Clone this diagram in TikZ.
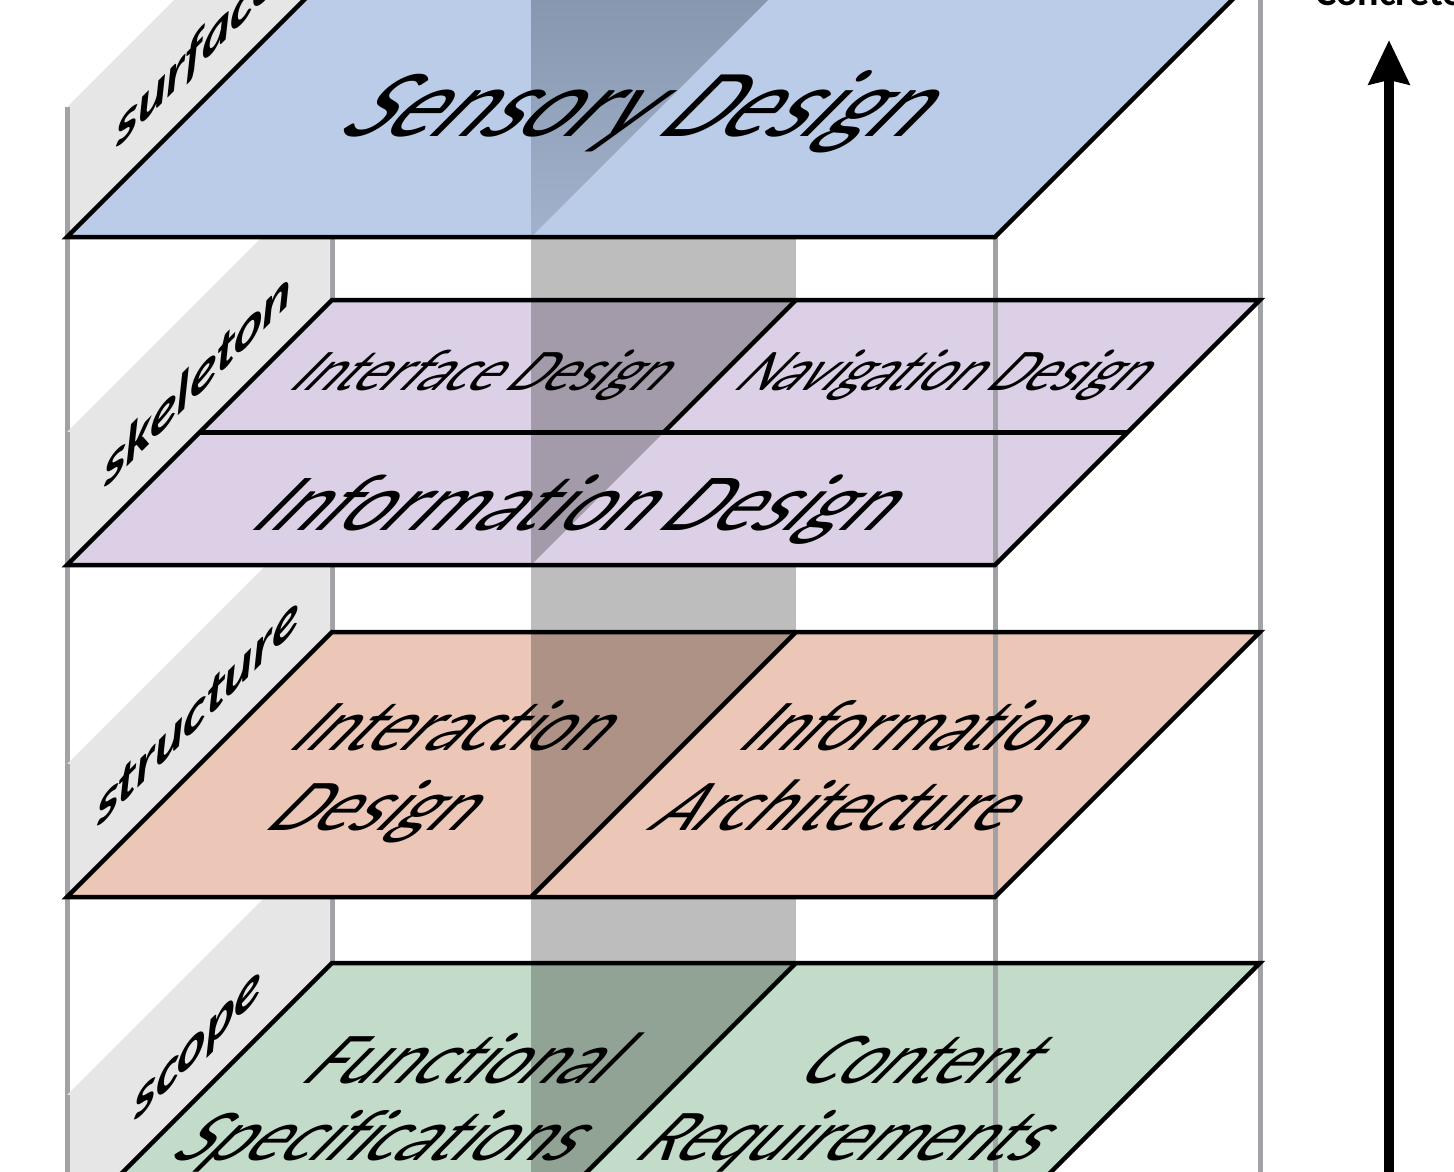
\documentclass[tikz,border=0pt]{standalone}
\usepackage{fontspec}
\setmainfont{Carlito}[Ligatures=CommonOff]
\usetikzlibrary{arrows.meta}
\definecolor{surfc}{RGB}{186,204,232}
\definecolor{skelc}{RGB}{220,208,230}
\definecolor{strc}{RGB}{236,198,182}
\definecolor{scopc}{RGB}{195,220,201}
\definecolor{panelc}{RGB}{230,230,230}
\definecolor{framec}{RGB}{160,162,166}
\definecolor{surftop}{RGB}{132,148,172}
\definecolor{surfbot}{RGB}{162,178,204}
\begin{document}
\begin{tikzpicture}[x=1pt,y=-1pt,
  outline/.style={draw=black, line width=4.5pt},
  panel/.style={fill=panelc},
  framel/.style={draw=framec, line width=5pt},
  band/.style={fill=black, fill opacity=0.26},
  lbl/.style={font=\fontsize{54}{54}\selectfont\bfseries\itshape, yslant=1, anchor=base, inner sep=0pt},
  ptext/.style={font=\fontsize{#1}{#1}\selectfont, xslant=1, anchor=base, inner sep=0pt},
]
\useasboundingbox (0,0) rectangle (1454,1172);
\clip (0,0) rectangle (1454,1172);
\fill[white] (0,0) rectangle (1454,1172);

% vertical divider plane (seen as a band)
\path[band] (531,-10) rectangle (796,1190);

% frame lines behind the planes
\draw[framel] (332,-40) -- (332,1190);
\draw[framel] (1260,-40) -- (1260,1190);
\draw[framel] (67,237) -- (67,1190);
\draw[framel] (995,237) -- (995,1190);

% ---------- scope ----------
\path[panel] (67,1228) -- (330,965) -- (330,832) -- (67,1095) -- cycle;
\node[lbl] (lscope) at (198,1059) {scope};
\draw[framel] (67,1095) -- (67,1190);
\path[fill=scopc] (67,1228) -- (995,1228) -- (1260,963) -- (332,963) -- cycle;
\path[band] (531,1228) -- (796,963) -- (531,963) -- cycle;
\draw[framel] (995,963) -- (995,1190);
\node[ptext=73, xscale=0.97] (tfun) at (449,1083) {Functional};
\node[ptext=73, xscale=0.98] (tspec) at (366,1160) {Specifications};
\node[ptext=73, xscale=0.95] (tcont) at (906,1083) {Content};
\node[ptext=73, xscale=0.96] (treq) at (830,1160) {Requirements};
\draw[outline] (67,1228) -- (995,1228) -- (1260,963) -- (332,963) -- cycle;
\draw[outline] (796,963) -- (531,1228);

% ---------- structure ----------
\path[panel] (67,897) -- (330,634) -- (330,501) -- (67,764) -- cycle;
\node[lbl] (lstruct) at (198,728) {structure};
\draw[framel] (67,764) -- (67,897);
\path[fill=strc] (67,897) -- (995,897) -- (1260,632) -- (332,632) -- cycle;
\path[band] (531,897) -- (796,632) -- (531,632) -- cycle;
\draw[framel] (995,632) -- (995,897);
\node[ptext=73, xscale=0.95] (tinter) at (439,750) {Interaction};
\node[ptext=73, xscale=0.99] (tdes) at (361,830) {Design};
\node[ptext=73, xscale=0.94] (tinfo) at (900,750) {Information};
\node[ptext=73, xscale=0.96] (tarch) at (822,830) {Architecture};
\draw[outline] (67,897) -- (995,897) -- (1260,632) -- (332,632) -- cycle;
\draw[outline] (796,632) -- (531,897);

% ---------- skeleton ----------
\path[panel] (67,565) -- (330,302) -- (330,169) -- (67,432) -- cycle;
\node[lbl] (lskel) at (198,396) {skeleton};
\draw[framel] (67,432) -- (67,565);
\path[fill=skelc] (67,565) -- (995,565) -- (1260,300) -- (332,300) -- cycle;
\path[band] (531,565) -- (796,300) -- (531,300) -- cycle;
\draw[framel] (995,300) -- (995,565);
\node[ptext=59, xscale=0.95] (tintf) at (471,390) {Interface Design};
\node[ptext=59, xscale=0.94] (tnav) at (933,390) {Navigation Design};
\node[ptext=81, xscale=1.0] (tinfd) at (561,530) {Information Design};
\draw[outline] (67,565) -- (995,565) -- (1260,300) -- (332,300) -- cycle;
\draw[outline] (199.5,432.5) -- (1127.5,432.5);
\draw[outline] (796,300) -- (663.5,432.5);

% ---------- surface ----------
\path[panel] (67,237) -- (330,-26) -- (330,-156) -- (67,107) -- cycle;
\node[lbl] (lsurf) at (198,68) {surface};
\draw[framel] (67,107) -- (67,237);
\path[fill=surfc] (67,237) -- (995,237) -- (1260,-28) -- (332,-28) -- cycle;
\shade[top color=surftop, bottom color=surfbot] (531,237) -- (796,-28) -- (531,-28) -- cycle;
\node[ptext=96, xscale=0.97] (tsens) at (621,136) {Sensory Design};
\draw[outline] (67,237) -- (995,237) -- (1260,-28) -- (332,-28) -- cycle;

% ---------- arrow ----------
\coordinate (abot) at (1389,1200);
\coordinate (atip) at (1389,40);
\draw[line width=10pt, -{Stealth[length=44pt, width=40pt, inset=4pt]}] (abot) -- (atip);
\node[font=\fontsize{40}{40}\selectfont\bfseries, anchor=base, inner sep=0pt] (conc) at (1389,6) {Concrete};
\end{tikzpicture}
\end{document}
